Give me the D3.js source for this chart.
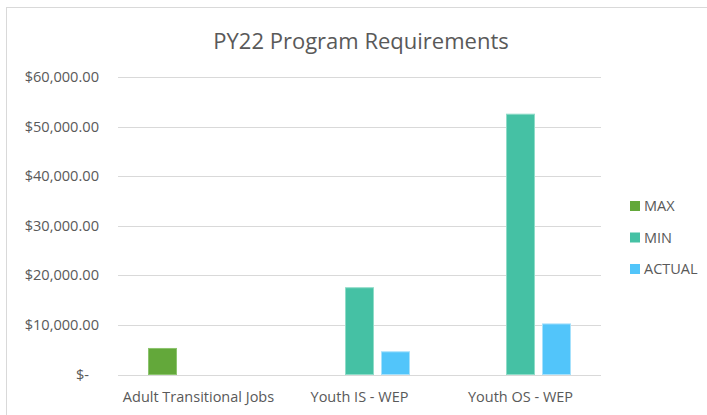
<!DOCTYPE html>
<html>
<head>
<meta charset="utf-8">
<script src="https://cdn.jsdelivr.net/npm/d3@7"></script>
<style>
    body { margin: 0; background: #fff; }
    text { font-family: "Open Sans", sans-serif; fill: #595959; }
</style>
</head>
<body>
<div id="chart"></div>
<script>
// chart values
const categories = ["Adult Transitional Jobs", "Youth IS - WEP", "Youth OS - WEP"];
const seriesNames = ["MAX", "MIN", "ACTUAL"];
const maxValues = [5250, null, null];
const minValues = [null, 17500, 52500];
const actualValues = [null, 4580, 10200];
const yTicks = [0, 10000, 20000, 30000, 40000, 50000, 60000];
const title = "PY22 Program Requirements";

const colors = {MAX: "#63a83a", MIN: "#45c1a4", ACTUAL: "#52c5fa"};
const strokes = {MAX: "#8cc46e", MIN: "#8fdcc8", ACTUAL: "#a6e1fc"};

let seriesValues = {MAX: maxValues, MIN: minValues, ACTUAL: actualValues};

let width = 707, height = 415;

let svg = d3.select("#chart").append("svg")
    .attr("width", width)
    .attr("height", height);

// chart border
svg.append("rect")
    .attr("x", 6.5).attr("y", 7.5)
    .attr("width", width + 10).attr("height", height + 10)
    .attr("fill", "#fff")
    .attr("stroke", "#d9d9d9");

svg.append("text")
    .attr("x", 361).attr("y", 49)
    .attr("text-anchor", "middle")
    .style("font-size", "22px")
    .text(title);

// scales
let x0 = d3.scaleBand()
    .domain(categories)
    .range([118, 601])
    .padding(0);

let x1 = d3.scaleBand()
    .domain(seriesNames)
    .range([30, x0.bandwidth() - 30])
    .paddingInner(7 / 36);

let y = d3.scaleLinear()
    .domain([0, 60000])
    .range([374.5, 77]);

// gridlines
svg.append("g")
    .selectAll("line")
    .data(yTicks)
    .join("line")
    .attr("x1", 118).attr("x2", 601)
    .attr("y1", d => Math.round(y(d)) + 0.5)
    .attr("y2", d => Math.round(y(d)) + 0.5)
    .attr("stroke", "#d9d9d9");

// y labels
let money = d3.format("$,.2f");
svg.append("g")
    .selectAll("text")
    .data(yTicks)
    .join("text")
    .attr("x", d => d === 0 ? 89 : 99)
    .attr("y", d => y(d))
    .attr("dy", "0.35em")
    .attr("text-anchor", "end")
    .style("font-size", "14.6px")
    .text(d => d === 0 ? "$-" : money(d));

// bars
let groups = svg.append("g")
    .selectAll("g")
    .data(categories)
    .join("g")
    .attr("transform", d => `translate(${x0(d)},0)`);

groups.selectAll("rect")
    .data((d, i) => seriesNames
        .map(s => ({key: s, value: seriesValues[s][i]}))
        .filter(e => e.value !== null))
    .join("rect")
    .attr("x", d => x1(d.key) + 0.5)
    .attr("y", d => y(d.value))
    .attr("width", x1.bandwidth() - 1)
    .attr("height", d => y(0) - y(d.value))
    .attr("fill", d => colors[d.key])
    .attr("stroke", d => strokes[d.key])
    .attr("stroke-width", 1);

// x labels
svg.append("g")
    .selectAll("text")
    .data(categories)
    .join("text")
    .attr("x", d => x0(d) + x0.bandwidth() / 2)
    .attr("y", 402)
    .attr("text-anchor", "middle")
    .style("font-size", "14.5px")
    .text(d => d);

// legend
let legend = svg.append("g")
    .selectAll("g")
    .data(seriesNames)
    .join("g")
    .attr("transform", (d, i) => `translate(630,${201 + i * 31.5})`);

legend.append("rect")
    .attr("width", 10).attr("height", 10)
    .attr("fill", d => colors[d]);

legend.append("text")
    .attr("x", 14).attr("y", 5)
    .attr("dy", "0.35em")
    .style("font-size", "14.5px")
    .text(d => d);
</script>
</body>
</html>
